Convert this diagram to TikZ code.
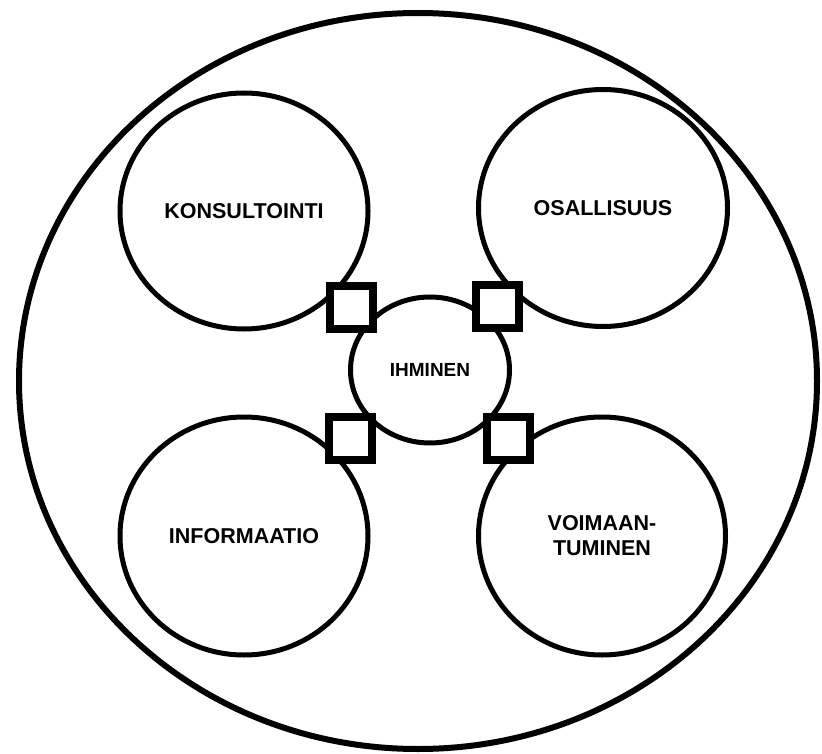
\documentclass[tikz,border=0pt]{standalone}
\usepackage{fontspec}
\setmainfont{Liberation Sans}
\usetikzlibrary{shapes.geometric}
\begin{document}
\begin{tikzpicture}[x=1pt,y=-1pt,
  bigcircle/.style={ellipse,draw,line width=5pt,inner sep=0pt,align=center,
    font=\fontsize{21.5}{25}\selectfont\bfseries},
  hubcircle/.style={ellipse,draw,fill=white,line width=5pt,inner sep=0pt,
    font=\fontsize{19}{22}\selectfont\bfseries},
  linkbox/.style={rectangle,draw,fill=white,line width=8pt,minimum size=43pt,inner sep=0pt}]
\useasboundingbox (0,0) rectangle (822,754);
\node[ellipse,draw,line width=6pt,minimum width=798pt,minimum height=736pt,inner sep=0pt] (outer) at (418,381) {};
\node[bigcircle,minimum width=248pt,minimum height=236pt] (kons) at (244,211) {KONSULTOINTI};
\node[bigcircle,minimum width=249pt,minimum height=237pt] (osal) at (603,208) {OSALLISUUS};
\node[bigcircle,minimum width=248pt,minimum height=238pt] (info) at (244,536) {INFORMAATIO};
\node[bigcircle,minimum width=247pt,minimum height=238pt] (voim) at (602,536) {VOIMAAN-\\TUMINEN};
\node[hubcircle,minimum width=159pt,minimum height=146pt] (ihm) at (430,370) {IHMINEN};
\node[linkbox] (b1) at (351,307) {};
\node[linkbox] (b2) at (497,306) {};
\node[linkbox] (b3) at (350,438) {};
\node[linkbox] (b4) at (508,438) {};
\end{tikzpicture}
\end{document}
